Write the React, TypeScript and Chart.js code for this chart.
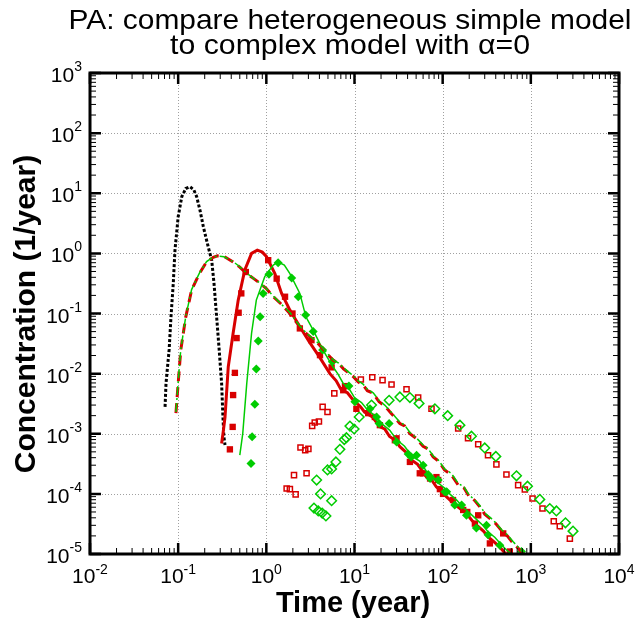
import React, { useEffect, useRef } from 'react';
import { Chart, registerables } from 'chart.js';

Chart.register(...registerables);

// ---------- axis set-up ----------
const X_MIN = 0.01;
const X_MAX = 10000;
const Y_MIN = 1e-5;
const Y_MAX = 1000;
const xDecades = [-2, -1, 0, 1, 2, 3, 4];
const yDecades = [-5, -4, -3, -2, -1, 0, 1, 2, 3];

const titleLines = ['PA: compare heterogeneous simple model', 'to complex model with \u03b1=0'];
const xTitle = 'Time (year)';
const yTitle = 'Concentration (1/year)';

// ---------- data ----------
// black dotted
const blackX = [0.071, 0.0728, 0.079, 0.0829, 0.088, 0.092, 0.1, 0.11, 0.122, 0.136, 0.15, 0.162, 0.178, 0.193, 0.219, 0.24, 0.255, 0.273, 0.292, 0.311, 0.322, 0.33, 0.34];
const blackY = [2.8e-3, 6.9e-3, 0.025, 0.088, 0.317, 1.13, 4.06, 8.8, 12.0, 12.8, 11.5, 8.8, 5.0, 2.77, 1.29, 0.77, 0.317, 0.088, 0.0246, 6.9e-3, 1.9e-3, 8.9e-4, 6.5e-4];

// red long-dashed (simple model)
const redDashX = [0.0944, 0.1, 0.107, 0.122, 0.142, 0.174, 0.21, 0.25, 0.28, 0.33, 0.42, 0.5, 0.6, 0.72, 0.85, 1.0, 1.2, 1.5, 1.85, 2.4, 2.86, 3.4, 4.0, 4.8, 5.7, 6.6, 7.5, 8.6, 9.7, 11, 12.5, 14, 16.3, 19, 22, 26, 32.7, 37, 42.5, 50, 60, 68, 78, 90, 105, 125, 150, 175, 200, 230, 264, 300, 350, 400, 470, 540, 631, 720, 813];
const redDashY = [2.2e-3, 6.9e-3, 0.0246, 0.088, 0.245, 0.46, 0.72, 0.86, 0.91, 0.89, 0.72, 0.59, 0.46, 0.38, 0.317, 0.26, 0.19, 0.14, 0.1, 0.06, 0.046, 0.037, 0.03, 0.022, 0.0168, 0.0148, 0.012, 0.0103, 8.9e-3, 7.3e-3, 6.5e-3, 5.2e-3, 4.7e-3, 3.4e-3, 2.9e-3, 2.2e-3, 1.48e-3, 1.35e-3, 1.0e-3, 8.4e-4, 6.2e-4, 5.6e-4, 4.1e-4, 3.5e-4, 2.5e-4, 2.1e-4, 1.4e-4, 1.25e-4, 9e-5, 7.8e-5, 6.1e-5, 4.6e-5, 3.8e-5, 3.2e-5, 2.4e-5, 2.0e-5, 1.5e-5, 1.25e-5, 1.0e-5];

// green dash-dot (simple model)
const greenDashX = [0.0944, 0.1, 0.107, 0.122, 0.142, 0.174, 0.21, 0.25, 0.28, 0.33, 0.42, 0.5, 0.6, 0.72, 0.85, 1.0, 1.2, 1.5, 1.85, 2.4, 2.86, 3.4, 4.0, 4.8, 5.7, 6.6, 7.5, 8.6, 9.7, 11, 12.5, 14, 16.3, 19, 22, 26, 32.7, 37, 42.5, 50, 60, 68, 78, 90, 105, 125, 150, 175, 200, 230, 264, 300, 350, 400, 470, 540, 631, 720, 813];
const greenDashY = [2.3e-3, 7.2e-3, 0.025, 0.09, 0.25, 0.47, 0.73, 0.87, 0.9, 0.88, 0.73, 0.6, 0.47, 0.38, 0.32, 0.26, 0.195, 0.14, 0.104, 0.062, 0.047, 0.038, 0.031, 0.0225, 0.017, 0.015, 0.0125, 0.0106, 9.2e-3, 7.6e-3, 6.7e-3, 5.5e-3, 4.8e-3, 3.6e-3, 3.0e-3, 2.3e-3, 1.55e-3, 1.4e-3, 1.05e-3, 8.6e-4, 6.5e-4, 5.7e-4, 4.3e-4, 3.6e-4, 2.6e-4, 2.2e-4, 1.5e-4, 1.3e-4, 9.5e-5, 8.0e-5, 6.4e-5, 4.8e-5, 4.0e-5, 3.3e-5, 2.5e-5, 2.1e-5, 1.6e-5, 1.3e-5, 1.05e-5];

// red solid (complex model)
const redSolidX = [0.311, 0.325, 0.34, 0.37, 0.42, 0.48, 0.57, 0.68, 0.79, 0.9, 1.0, 1.25, 1.49, 1.85, 2.4, 3.1, 4.0, 5.26, 6.2, 7.0, 8.3, 9.7, 11.5, 13, 16, 19.4, 22, 25, 29, 32.7, 38, 45, 52, 65.6, 75, 85, 98, 111, 125, 140, 160, 186, 215, 250, 290, 330, 380, 445, 520];
const redSolidY = [6.9e-4, 1.1e-3, 1.9e-3, 0.013, 0.047, 0.167, 0.53, 1.0, 1.13, 1.05, 0.89, 0.46, 0.216, 0.114, 0.06, 0.033, 0.019, 0.01, 7.6e-3, 5.5e-3, 4.8e-3, 3.6e-3, 2.9e-3, 2.3e-3, 1.9e-3, 1.3e-3, 1.2e-3, 9e-4, 7.8e-4, 6.1e-4, 5.0e-4, 3.6e-4, 3.1e-4, 1.9e-4, 1.7e-4, 1.3e-4, 1.1e-4, 8.9e-5, 7.6e-5, 6.5e-5, 5.6e-5, 4.7e-5, 3.6e-5, 2.9e-5, 2.4e-5, 1.9e-5, 1.6e-5, 1.3e-5, 1.0e-5];

// green solid (complex model)
const greenSolidX = [0.5, 0.54, 0.6, 0.68, 0.77, 0.96, 1.2, 1.36, 1.6, 1.85, 2.4, 2.81, 3.4, 4.4, 5.6, 6.5, 7.4, 8.7, 10, 12, 14, 17, 20, 25, 30, 37, 45, 55, 65, 77, 90, 105, 120, 145, 170, 200, 240, 285, 330, 390, 450, 520, 600];
const greenSolidY = [4.4e-4, 1e-3, 6.9e-3, 0.047, 0.167, 0.41, 0.64, 0.72, 0.64, 0.46, 0.216, 0.088, 0.053, 0.0246, 0.0135, 9.8e-3, 7e-3, 5.6e-3, 4e-3, 3.3e-3, 2.5e-3, 2.0e-3, 1.5e-3, 1.15e-3, 8e-4, 6.2e-4, 4.2e-4, 3.5e-4, 2.4e-4, 2.0e-4, 1.5e-4, 1.25e-4, 1.0e-4, 7.8e-5, 6e-5, 4.9e-5, 3.8e-5, 3.0e-5, 2.3e-5, 1.9e-5, 1.5e-5, 1.2e-5, 1.0e-5];

// red filled squares (complex model, points)
const redSquareX = [0.386, 0.415, 0.42, 0.44, 0.46, 0.485, 0.52, 0.585, 1.05, 1.31, 1.63, 1.98, 2.4, 3.25, 4.06, 5.5, 7.45, 7.8, 10.5, 14.3, 17, 19.4, 28.7, 30, 42.5, 55, 60, 72, 85, 89, 93, 101, 131, 171, 190, 232, 253, 343, 486, 578];
const redSquareY = [5.5e-4, 1.3e-3, 4.4e-3, 0.0103, 0.039, 0.103, 0.216, 0.49, 0.77, 0.38, 0.19, 0.1, 0.0565, 0.036, 0.0203, 0.0127, 5.3e-3, 6.2e-3, 2.6e-3, 2.2e-3, 1.9e-3, 1.39e-3, 7.8e-4, 8.4e-4, 3.4e-4, 2.2e-4, 2.2e-4, 1.8e-4, 1.9e-4, 1.7e-4, 1.2e-4, 1.0e-4, 7.9e-5, 5.4e-5, 5.0e-5, 3.2e-5, 4.4e-5, 1.5e-5, 2.2e-5, 1.1e-5];

// green filled diamonds (complex model, points)
const greenDiamondX = [0.67, 0.69, 0.74, 0.77, 0.81, 0.85, 0.92, 1.07, 1.36, 1.94, 2.3, 2.79, 3.4, 4.35, 5.6, 8.65, 10.1, 15, 17.8, 19, 24.7, 30, 40.6, 44, 50.6, 60, 68.5, 72, 89, 106, 111, 137, 164, 186, 241, 314, 327, 445, 783];
const greenDiamondY = [3.2e-4, 8.9e-4, 3.1e-3, 0.0119, 0.035, 0.088, 0.216, 0.448, 0.7, 0.39, 0.19, 0.094, 0.05, 0.0246, 0.0157, 6.2e-3, 3.4e-3, 2.6e-3, 1.9e-3, 1.48e-3, 1.48e-3, 7.3e-4, 4.6e-4, 4.1e-4, 4.4e-4, 3.0e-4, 2.1e-4, 1.8e-4, 1.7e-4, 1.08e-4, 1.08e-4, 6.5e-5, 6.5e-5, 4.4e-5, 2.7e-5, 3.0e-5, 2.1e-5, 1.4e-5, 1.1e-5];

// red open squares
const redOpenX = [1.7, 1.85, 2.15, 2.06, 2.86, 2.44, 2.76, 3.0, 3.31, 3.54, 3.95, 4.35, 4.94, 5.9, 11.8, 15.9, 20.8, 26.3, 38.9, 52.7, 74.7, 150, 194, 253, 327, 407, 529, 718, 855, 1046, 1356, 1820, 2130, 2770];
const redOpenY = [1.23e-4, 1.2e-4, 9.8e-5, 2.05e-4, 2.2e-4, 5.9e-4, 5.3e-4, 5.6e-4, 1.35e-3, 1.54e-3, 1.6e-3, 2.8e-3, 2.3e-3, 4.7e-3, 8.0e-3, 8.7e-3, 7.8e-3, 6.6e-3, 5.5e-3, 4.0e-3, 2.6e-3, 1.22e-3, 8.4e-4, 6.7e-4, 4.4e-4, 3.1e-4, 2.1e-4, 1.4e-4, 1.18e-4, 8.4e-5, 5.7e-5, 3.5e-5, 2.9e-5, 1.8e-5];

// green open diamonds
const greenOpenX = [3.47, 3.88, 4.3, 4.74, 4.12, 5.5, 3.72, 4.94, 5.5, 6.15, 6.83, 7.65, 8.1, 8.87, 9.9, 11.3, 15.6, 24.7, 32.7, 42.5, 54, 81.6, 114, 157, 212, 300, 401, 688, 917, 1265, 1640, 1950, 2470, 3010];
const greenOpenY = [5.8e-5, 5.2e-5, 4.8e-5, 4.3e-5, 1.0e-4, 7.7e-5, 1.7e-4, 2.5e-4, 2.6e-4, 3.4e-4, 5.5e-4, 8.0e-4, 8.6e-4, 1.34e-3, 1.2e-3, 1.9e-3, 3.0e-3, 3.6e-3, 4.1e-3, 4.0e-3, 3.2e-3, 2.6e-3, 2.0e-3, 1.39e-3, 9.1e-4, 5.8e-4, 4.2e-4, 2.0e-4, 1.34e-4, 8.1e-5, 5.7e-5, 5.2e-5, 3.3e-5, 2.4e-5];

const RED = '#d80000';
const GREEN = '#00cc00';
const FONT = '"Liberation Sans", Arial, Helvetica, sans-serif';

function pts(xs: number[], ys: number[]) {
  return xs.map((x, i) => ({ x, y: ys[i] }));
}

// draw text centred at cx, stretched horizontally to a target width
function fitText(ctx: CanvasRenderingContext2D, text: string, cx: number, y: number, target: number) {
  const w = ctx.measureText(text).width;
  const k = target / w;
  ctx.save();
  ctx.translate(cx, y);
  ctx.scale(k, 1);
  ctx.textAlign = 'center';
  ctx.fillText(text, 0, 0);
  ctx.restore();
}

const decoPlugin = {
  id: 'deco',
  beforeDatasetsDraw(chart: any) {
    const { ctx, chartArea: a, scales } = chart;
    ctx.save();
    ctx.strokeStyle = '#a0a0a0';
    ctx.lineWidth = 1;
    ctx.setLineDash([1, 2]);
    xDecades.forEach((e) => {
      const px = Math.round(scales.x.getPixelForValue(Math.pow(10, e))) + 0.5;
      if (px > a.left + 3 && px < a.right - 3) {
        ctx.beginPath();
        ctx.moveTo(px, a.top);
        ctx.lineTo(px, a.bottom);
        ctx.stroke();
      }
    });
    yDecades.forEach((e) => {
      const py = Math.round(scales.y.getPixelForValue(Math.pow(10, e))) + 0.5;
      if (py > a.top + 3 && py < a.bottom - 3) {
        ctx.beginPath();
        ctx.moveTo(a.left, py);
        ctx.lineTo(a.right, py);
        ctx.stroke();
      }
    });
    ctx.restore();
  },
  afterDraw(chart: any) {
    const { ctx, chartArea: a, scales } = chart;
    const sx = scales.x;
    const sy = scales.y;
    ctx.save();
    ctx.setLineDash([]);
    ctx.strokeStyle = '#000';
    // ticks on all four sides
    xDecades.forEach((e) => {
      for (let m = 1; m <= 9; m++) {
        const v = m * Math.pow(10, e);
        if (v > X_MAX * 1.0001) break;
        const px = sx.getPixelForValue(v);
        const len = m === 1 ? 11 : 6;
        ctx.lineWidth = m === 1 ? 2.5 : 1;
        ctx.beginPath();
        ctx.moveTo(px, a.bottom);
        ctx.lineTo(px, a.bottom - len);
        ctx.moveTo(px, a.top);
        ctx.lineTo(px, a.top + len);
        ctx.stroke();
      }
    });
    yDecades.forEach((e) => {
      for (let m = 1; m <= 9; m++) {
        const v = m * Math.pow(10, e);
        if (v > Y_MAX * 1.0001) break;
        const py = sy.getPixelForValue(v);
        const len = m === 1 ? 11 : 6;
        ctx.lineWidth = m === 1 ? 2.5 : 1;
        ctx.beginPath();
        ctx.moveTo(a.left, py);
        ctx.lineTo(a.left + len, py);
        ctx.moveTo(a.right, py);
        ctx.lineTo(a.right - len, py);
        ctx.stroke();
      }
    });
    // frame
    ctx.lineWidth = 3;
    ctx.strokeRect(a.left, a.top, a.right - a.left, a.bottom - a.top);

    // tick labels
    ctx.fillStyle = '#000';
    ctx.textBaseline = 'alphabetic';
    const baseFont = `21px ${FONT}`;
    const expFont = `14px ${FONT}`;
    xDecades.forEach((e) => {
      const px = sx.getPixelForValue(Math.pow(10, e));
      const exp = String(e);
      ctx.font = baseFont;
      const w1 = ctx.measureText('10').width;
      ctx.font = expFont;
      const w2 = ctx.measureText(exp).width;
      const x0 = px - (w1 + w2) / 2;
      ctx.textAlign = 'left';
      ctx.font = baseFont;
      ctx.fillText('10', x0, a.bottom + 29);
      ctx.font = expFont;
      ctx.fillText(exp, x0 + w1, a.bottom + 20);
    });
    yDecades.forEach((e) => {
      const py = sy.getPixelForValue(Math.pow(10, e));
      const exp = String(e);
      ctx.font = expFont;
      const w2 = ctx.measureText(exp).width;
      const xr = a.left - 8;
      ctx.textAlign = 'right';
      ctx.fillText(exp, xr, py - 2);
      ctx.font = baseFont;
      ctx.fillText('10', xr - w2, py + 9);
    });

    // title
    ctx.font = `28px ${FONT}`;
    fitText(ctx, titleLines[0], 350, 29, 563);
    fitText(ctx, titleLines[1], 350, 54, 360);

    // axis titles
    ctx.textAlign = 'center';
    ctx.font = `bold 29px ${FONT}`;
    ctx.fillText(xTitle, 353, 612);
    ctx.save();
    ctx.translate(35, 314);
    ctx.rotate(-Math.PI / 2);
    ctx.font = `bold 30px ${FONT}`;
    ctx.fillText(yTitle, 0, 0);
    ctx.restore();
    ctx.restore();
  },
};

export default function App() {
  const ref = useRef<HTMLCanvasElement | null>(null);
  useEffect(() => {
    document.body.style.margin = '0';
    if (!ref.current) return;
    const lineDs = (label: string, xs: number[], ys: number[], color: string, width: number, dash: number[]) => ({
      label,
      data: pts(xs, ys),
      borderColor: color,
      backgroundColor: color,
      borderWidth: width,
      borderDash: dash,
      pointRadius: 0,
      showLine: true,
      tension: 0,
      fill: false,
    });
    const markDs = (label: string, xs: number[], ys: number[], color: string, style: string, radius: number, filled: boolean) => ({
      label,
      data: pts(xs, ys),
      borderColor: color,
      backgroundColor: filled ? color : 'rgba(255,255,255,0)',
      pointBackgroundColor: filled ? color : 'rgba(255,255,255,0)',
      pointBorderColor: color,
      pointBorderWidth: filled ? 0 : 1.5,
      pointStyle: style,
      pointRadius: radius,
      showLine: false,
    });
    const chart = new Chart(ref.current, {
      type: 'line',
      data: {
        datasets: [
          lineDs('green dash-dot', greenDashX, greenDashY, GREEN, 1.5, [9, 3, 2, 3]),
          lineDs('red dashed', redDashX, redDashY, RED, 3, [10, 6]),
          markDs('green diamonds', greenDiamondX, greenDiamondY, GREEN, 'rectRot', 4.5, true),
          lineDs('green solid', greenSolidX, greenSolidY, GREEN, 1.5, []),
          markDs('red squares', redSquareX, redSquareY, RED, 'rect', 4.5, true),
          lineDs('red solid', redSolidX, redSolidY, RED, 3, []),
          markDs('green open diamonds', greenOpenX, greenOpenY, GREEN, 'rectRot', 4.8, false),
          markDs('red open squares', redOpenX, redOpenY, RED, 'rect', 3.6, false),
          lineDs('black dotted', blackX, blackY, '#000000', 3, [3, 2]),
        ] as any,
      },
      options: {
        animation: false,
        responsive: false,
        layout: { padding: { left: 90, top: 73, right: 20, bottom: 69 } },
        plugins: {
          legend: { display: false },
          tooltip: { enabled: false },
          title: { display: false },
        },
        scales: {
          x: { type: 'logarithmic', min: X_MIN, max: X_MAX, display: false },
          y: { type: 'logarithmic', min: Y_MIN, max: Y_MAX, display: false },
        },
      } as any,
      plugins: [decoPlugin],
    });
    return () => chart.destroy();
  }, []);
  return (
    <div style={{ width: 639, height: 623, background: '#fff' }}>
      <canvas ref={ref} width={639} height={623} style={{ display: 'block' }} />
    </div>
  );
}
